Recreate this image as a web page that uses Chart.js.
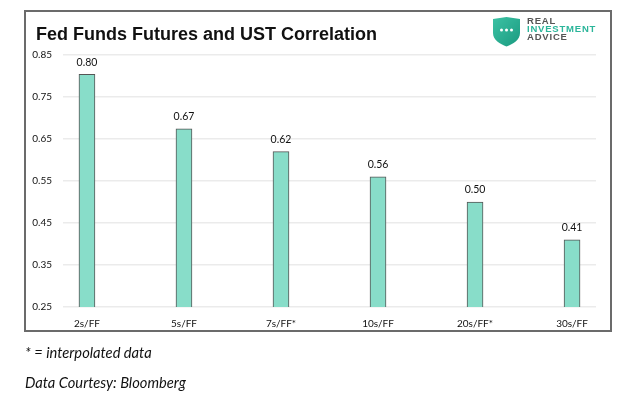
<!DOCTYPE html>
<html>
<head>
<meta charset="utf-8">
<script src="https://cdn.jsdelivr.net/npm/chart.js@4.4.1/dist/chart.umd.min.js"></script>
<style>
  html, body { margin: 0; padding: 0; background: #fff; }
  #wrap { position: relative; width: 637px; height: 398px; overflow: hidden; }
  #frame { position: absolute; left: 24px; top: 10px; width: 584px; height: 318px; border: 2px solid #6b6b6b; box-sizing: content-box; }
  canvas { position: absolute; left: 0; top: 0; }
  #title { position: absolute; left: 36px; top: 24px; font: bold 18px "Liberation Sans", Arial, sans-serif; color: #111; white-space: nowrap; }
  #logo { position: absolute; left: 492px; top: 16px; }
  #logotext { position: absolute; left: 527px; top: 17px; font: bold 9.5px "Liberation Sans", Arial, sans-serif; letter-spacing: 0.8px; line-height: 8px; color: #555; }
  #logotext .t { color: #2bb59a; }
  .note { position: absolute; left: 25px; font: italic 14.7px Lato, sans-serif; color: #111; white-space: nowrap; }
</style>
</head>
<body>
<div id="wrap">
  <div id="frame"></div>
  <canvas id="c" width="637" height="398"></canvas>
  <div id="title">Fed Funds Futures and UST Correlation</div>
  <svg id="logo" width="29" height="31" viewBox="0 0 29 31">
    <defs>
      <linearGradient id="g" x1="0" y1="0" x2="1" y2="1">
        <stop offset="0" stop-color="#3cc2a4"/>
        <stop offset="1" stop-color="#1a9a80"/>
      </linearGradient>
    </defs>
    <path d="M1,3 L14.5,1 L28,3 L28,17 C28,24 21,28 14.5,30.5 C8,28 1,24 1,17 Z" fill="url(#g)"/>
    <circle cx="9.5" cy="14" r="1.5" fill="#fff"/>
    <circle cx="14.5" cy="14" r="1.5" fill="#fff"/>
    <circle cx="19.5" cy="14" r="1.5" fill="#fff"/>
  </svg>
  <div id="logotext">REAL<br><span class="t">INVESTMENT</span><br>ADVICE</div>
  <div class="note" style="top:343px">* = interpolated data</div>
  <div class="note" style="top:373px">Data Courtesy: Bloomberg</div>
</div>
<script>
const categories = ["2s/FF", "5s/FF", "7s/FF*", "10s/FF", "20s/FF*", "30s/FF"];
const correlation = [0.804, 0.674, 0.62, 0.56, 0.50, 0.41];
const yTicks = [0.25, 0.35, 0.45, 0.55, 0.65, 0.75, 0.85];

const points = categories.map((c, i) => ({ x: i, y: correlation[i] }));

const valueLabels = {
  id: 'valueLabels',
  afterDatasetsDraw(chart) {
    const ctx = chart.ctx;
    const meta = chart.getDatasetMeta(0);
    ctx.save();
    ctx.font = '10.5px Lato, sans-serif';
    ctx.fillStyle = '#111';
    ctx.textAlign = 'center';
    ctx.textBaseline = 'middle';
    meta.data.forEach((bar, i) => {
      ctx.fillText(correlation[i].toFixed(2), bar.x, bar.y - 12);
    });
    ctx.restore();
  }
};

new Chart(document.getElementById('c'), {
  type: 'bar',
  data: {
    datasets: [{
      data: points,
      backgroundColor: '#88ddc9',
      borderColor: '#555',
      borderWidth: 1,
      barThickness: 16
    }]
  },
  options: {
    responsive: false,
    animation: false,
    events: [],
    layout: { padding: { left: 0, top: 55, right: 41, bottom: 61 } },
    plugins: { legend: { display: false }, tooltip: { enabled: false } },
    scales: {
      x: {
        type: 'linear',
        offset: false,
        min: -0.247,
        max: 5.247,
        grid: { display: false, offset: false },
        border: { display: false },
        afterFit(s) { s.height = 30; },
        ticks: {
          stepSize: 1,
          includeBounds: false,
          autoSkip: false,
          maxRotation: 0,
          padding: 3,
          color: '#111',
          font: { family: 'Lato', size: 10 },
          callback: (v) => (Number.isInteger(v) && categories[v]) ? categories[v] : ''
        }
      },
      y: {
        min: yTicks[0],
        max: yTicks[yTicks.length - 1],
        afterFit(s) { s.width = 63; },
        afterBuildTicks(s) { s.ticks = yTicks.map(v => ({ value: v })); },
        grid: { color: '#ebebeb', lineWidth: 1.5, drawTicks: false },
        border: { display: false },
        ticks: {
          padding: 11,
          color: '#111',
          font: { family: 'Lato', size: 10 },
          callback: (v) => v.toFixed(2)
        }
      }
    }
  },
  plugins: [valueLabels]
});
</script>
</body>
</html>
